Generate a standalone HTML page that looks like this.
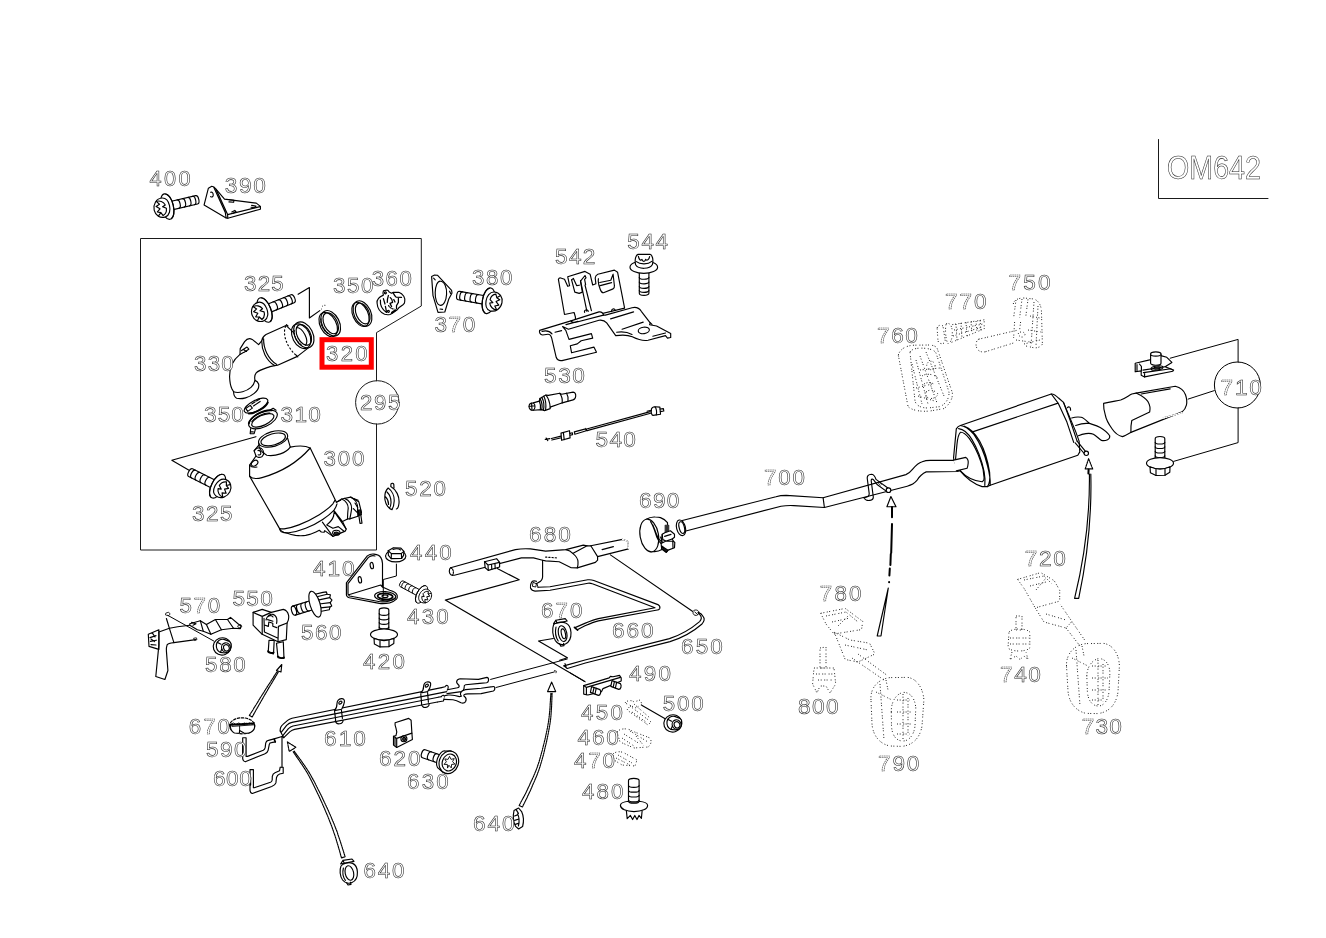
<!DOCTYPE html>
<html><head><meta charset="utf-8"><title>OM642 exhaust diagram</title>
<style>
html,body{margin:0;padding:0;background:#fff;}
body{width:1326px;height:938px;overflow:hidden;position:relative;}
svg{position:absolute;left:0;top:0;display:block;will-change:transform;}
.lb text{font-family:"Liberation Sans",sans-serif;fill:#fff;stroke:#222;stroke-width:.55;}
.lb .d{stroke-dasharray:1.6 .6;}
.ln{fill:none;stroke:#1a1a1a;stroke-width:1;stroke-linecap:round;stroke-linejoin:round;}
.p{fill:none;stroke:#000;stroke-width:1.15;stroke-linecap:round;stroke-linejoin:round;}
.pw{fill:#fff;stroke:#000;stroke-width:1.15;stroke-linecap:round;stroke-linejoin:round;}
.dot{fill:none;stroke:#222;stroke-width:1;stroke-dasharray:1 1.7 1 2.5 1 1.4 1 3;stroke-linecap:butt;stroke-linejoin:round;}
</style></head><body>
<svg width="1326" height="938" viewBox="0 0 1326 938">
<rect width="1326" height="938" fill="#fff"/>
<g class="ln">
<path d="M376.5 380.8V332.6L421.3 306V238.5H140.5V550H376.5V424"/>
<circle cx="377.3" cy="402.4" r="21.7"/>
<path d="M1158.5 139.5V198.5H1268"/>
</g>
<!-- 00_defs.svg -->
<defs>
<!-- torx flange bolt, side/iso view: axis +x, origin at flange centre, head toward -x -->
<g id="bolt">
<path class="pw" d="M2 -4.3L30.2 -4.3A2.2 4.3 0 0 1 30.2 4.3L3 4.3Z"/>
<path class="p" d="M11 -4.3A2.2 4.3 0 0 1 11 4.3M16.5 -4.3A2.2 4.3 0 0 1 16.5 4.3M22 -4.3A2.2 4.3 0 0 1 22 4.3M27 -4.3A2.2 4.3 0 0 1 27 4.3"/>
<ellipse class="pw" cx="0" cy="0" rx="6.2" ry="13"/>
<path class="p" d="M1.5 -12.6A6.2 13 0 0 1 1.5 12.6"/>
<path class="pw" d="M-3 -9.5C-9 -10.5 -13.5 -5 -13.5 0.5C-13.5 6 -9.5 10.2 -4 9.6C0.5 9 2.5 4 2.5 -0.5C2.5 -5 0.5 -8.8 -3 -9.5Z"/>
<path class="p" d="M-9.5 -7.5C-6 -8 -2.5 -5.5 -1.5 -2L-4.5 -1L-1.2 1.5C-1.5 4.5 -3.5 7 -6 7.8L-7.5 4.5L-10.5 7M-9.5 -7.5L-7 -4L-10.8 -2.5L-7.5 0.5L-10.8 3L-7.5 4.5"/>
</g>
<!-- hex flange bolt, vertical: origin at flange centre, shank up (-y) -->
<g id="vbolt">
<path class="pw" d="M-4.8 -2L-4.8 -24.500A4.8 2.200 0 0 1 4.8 -24.500L4.8 -2Z"/>
<path class="p" d="M-4.8 -7.500A4.8 1.8 0 0 0 4.8 -7.500M-4.8 -12A4.8 1.8 0 0 0 4.8 -12M-4.8 -16.500A4.8 1.8 0 0 0 4.8 -16.500M-4.8 -21A4.8 1.8 0 0 0 4.8 -21"/>
<ellipse class="pw" cx="0" cy="0" rx="13.5" ry="5.6"/>
<path class="pw" d="M-10 3.6L-9.6 9.5L-4 12.3L5 12L9.8 9L10 3.6C4 6.5 -4 6.5 -10 3.6Z"/>
<path class="p" d="M-4 6.2L-4 12.3M5 6L5 12"/>
</g>
</defs>

<!-- 10_topleft.svg -->
<!-- bolt 400 -->
<use href="#bolt" transform="translate(167.2 206.6) rotate(-13)"/>
<!-- bracket 390 -->
<g class="p">
<path class="pw" d="M211.8 186.2L208.4 188.2L204.1 204.9L226.1 217.9L227.8 218.2L260.4 209.2L260.4 206.4L256.3 203.1L224.5 199.1L216.2 189.4C214.5 187 213.2 186.2 211.8 186.2Z"/>
<path d="M213.9 187.6L225.3 212.5L226.1 217.9M216.2 189.4L227.6 214.6L227.8 218.2M227.6 214.6L260 206.6"/>
<path d="M210.6 192.2c1.6-.6 2.8 1 2.6 3.2c-.2 1.6-1.6 2-2.6 1.2"/>
<path d="M229.2 199.8l4.8.5l-.4 2l-4.6-.4M251.6 205.4l4.4.7l-1.4 1.6l-3.6-.4M231.8 212l3-1.6l1.2 1.2l-2.8 1.6"/>
</g>

<!-- 20_box295.svg -->
<!-- bolt 325 upper -->
<use href="#bolt" transform="translate(264.6 310) rotate(-22)"/>
<g class="p">
<path d="M298.1 294.3L309.4 287.6V318L319.8 310.6"/>
<!-- leader lines lower bolt -->
<path d="M255.9 436.7L171.8 460.2L189.9 470.7"/>
</g>
<!-- ring 320 (seal ring) -->
<g class="p" transform="translate(329.3 324) rotate(-27)">
<ellipse class="pw" cx="1.6" cy="0" rx="8.6" ry="13.6"/>
<ellipse cx="-1.2" cy="0" rx="8" ry="13"/>
<ellipse cx="1.6" cy="0" rx="6.6" ry="11.2"/>
<path d="M-5.2 -8.5A6.6 11.2 0 0 0 -5.2 8.5" stroke-dasharray="1.6 1.4"/>
</g>
<path class="dot" d="M322 306.6c1.4-1.6 3.4-1.8 4.4-.6M321 308.6l1.8 1.6"/>
<!-- ring 350 upper -->
<g class="p" transform="translate(361.4 314) rotate(-24)">
<ellipse class="pw" cx="1.2" cy="0" rx="8.4" ry="13.4"/>
<ellipse cx="-1" cy="0" rx="7.6" ry="12.8"/>
<ellipse cx="1.4" cy="0" rx="6.4" ry="11"/>
</g>
<!-- clamp 360 -->
<g class="p">
<path class="pw" d="M383.400 295.100C379 297 376.600 300 377.100 303.200C377.400 308 380.600 312.400 384.600 314.300C386.400 314.800 388.400 314.800 390 314.500L392.300 313.200L396.900 310.100L398.800 307.800L403 304.700C404.400 303.600 404.800 302.600 404.700 301.700C405 299.600 404.600 297.600 403.800 296.300C402.400 294.200 400.600 292.900 398.800 292.300L393 292.400L391.500 293.200L389.200 292.100C388.400 290.600 387.600 290 386.900 290L383.400 290.900C382.800 292.400 382.800 293.800 383.400 295.100Z"/>
<path d="M380.400 300.100C380 305 382.600 309.800 386.500 312.400M393 292.600C394 294.600 395 296 396.100 297.100L401.500 297.400M398.400 298.200L398.400 302.400C397.800 303.600 397 304.600 396.500 305.500L396.500 308.600M383.400 298.600L385 304M388.400 295.500C387.600 297.800 387.200 300 387.300 302.400M390.200 297.600C391.400 298.400 392.400 300.400 392.600 302.400L390 303.400L391.600 306.600M385.400 306.300L386.400 311.400M393.800 299.600l1.200 2.400" stroke-width="1.250"/>
<circle cx="388.400" cy="311.300" r="1"/><circle cx="385.400" cy="292.800" r="1"/>
<path d="M392 312.600l3.400-2.400" stroke-width="2"/>
<path d="M388.600 305.600c1.400 2.400 3.400 3.400 5.400 3.400" stroke-dasharray="1 1.200"/>
</g>
<!-- gasket 370 -->
<g class="p">
<path d="M431.6 276.4L434.6 275L437.4 275.2L451.6 290.4L452 293L448.8 299L444.8 312L438 312.4L433 295.6Z"/>
<path d="M440.4 281.2C444.4 281.4 447 287.4 446.6 294.2C446.2 300.6 443.6 305.6 440.6 305.4C437 305.2 435 299.2 435.2 292.6C435.4 286 437.4 281 440.4 281.2Z"/>
<path d="M433.6 278.2l1.6 1.6M449.6 291.2l1 2.2M440 309l2.6.4" />
</g>
<!-- bolt 380 -->
<use href="#bolt" transform="translate(488.6 300.8) rotate(190)"/>
<!-- pipe 330 -->
<g class="p">
<!-- body cylinder -->
<path class="pw" d="M286 325.4L266 334.6C263.6 336 262.2 338.2 261.7 340.8L258.6 344.6L252.2 339.4C249.6 338 246.6 339 244.6 341.6L240.2 348.6L240 354.4C233 360 229.4 368 229.6 377C229.8 382 230.6 386 231.8 388.6L233.6 391.8C233.6 394.6 234.6 397.2 236.6 398.2C242 399.6 249.4 397.4 254.2 393.4C257.6 390.6 259.4 387.2 258.6 384C258 382.4 256.6 381 255 380.4C254.4 377.6 254.4 375 256.2 372.8C259 370 265 368.4 270 366.6L274.6 365.6L277.6 365.2L297.4 356.4L309 347.4Z"/>
<path d="M261.7 340.8C261.6 350 266 360.6 274.6 365.6M263.6 338.8C263.4 348.4 268 359.4 276.8 364.6"/>
<path d="M233.6 391.8C239 393.6 246.4 391.4 251 387.4C253 385.6 254.4 383 255 380.4"/>
<path d="M240 354.4l3.400-1.800M241.600 350.600l5.400-3.600l1.800 2.200l-5 3.200M243.800 349.800l2.800 1.600"/>
<path d="M285.6 326.4C282.6 333 285.6 346.6 297 356" stroke-dasharray="1.2 2.6"/>
<path d="M286.4 324.600l1.600 1.400M296.200 355.200l1.600 1.600"/>
</g>
<g class="p" transform="translate(302.4 335.6) rotate(-27)">
<ellipse class="pw" cx="1.6" cy="0" rx="9" ry="13.8"/>
<ellipse cx="-1.4" cy="0" rx="8.6" ry="13.2"/>
<ellipse cx="1.6" cy="0" rx="6.6" ry="11"/>
<path d="M-1.500 -9.800A6.200 10.600 0 0 1 -1.500 10.200"/>
<path d="M-4.800 -8.500A6.6 11.2 0 0 0 -4.800 8.500" stroke-dasharray="1.6 1.4"/>
</g>
<!-- gasket 350 lower -->
<g class="p" transform="translate(256 405.600) rotate(-27)">
<ellipse class="pw" cx="0" cy="0" rx="13" ry="5.200"/>
<path d="M-10 3.800A13 5.200 0 0 0 12 2.600" stroke-width="1.800"/>
<path d="M-10.500 -2.200l5.500 -.600l.600 3.400l-5.600 .800zM-3 -3.400l4 -.400M2.500 -4l3.500 -.200M-2.400 -.800l8 -1"/>
</g>
<!-- clamp 310 -->
<g class="p" transform="translate(263 419.600) rotate(-25)">
<ellipse class="pw" cx="0" cy="0" rx="15.400" ry="7.400"/>
<ellipse cx="-.5" cy=".600" rx="12" ry="5"/>
<path d="M-14.500 -2.500A15.400 7.400 0 0 1 12 -4.600" stroke-width="1.800"/>
<path d="M-11 -2.800A12 5 0 0 1 9 -3" />
<path d="M-15 3l-2.600 4.400l3.600 1.600l3 -3.400M-16.400 5.800l2.400 1.200M10.500 -5.600l3.500 -.400l1.800 3"/>
</g>
<!-- bolt 325 lower -->
<use href="#bolt" transform="translate(217.600 486.200) rotate(206.600)"/>

<!-- 21_cat300.svg -->
<!-- catalytic converter 300 -->
<g class="p">
<!-- body -->
<path class="pw" d="M249.600 465.200L249.600 476.100L279.600 528.600C280.600 531 283.600 532.400 286.700 533C289.600 534.200 292.600 535 295.500 535.400C299 535.800 302.600 535.800 305.700 535.400C309.600 534.600 313 533.400 315.900 532L319.300 530.300L321.300 532L324.100 532.300L324.700 530.600L332.900 536.400L345.200 531.100L346.200 529.300L342.500 521.600L347.500 518.900L349.800 518.900L357.900 516.200L361.500 512.500L358.800 501.700L350.700 497.100L341.600 499L336.400 502.200L310.200 448C306 445.800 298 445.600 290.300 447.100L287.600 438.100L258.600 445.300L254.100 450.800L256 456L249.600 465.200Z"/>
<!-- neck ring -->
<g transform="translate(273.100 439) rotate(-16)">
<ellipse class="pw" cx="0" cy="0" rx="15" ry="7.400"/>
<ellipse cx="0" cy=".400" rx="12.600" ry="5.600"/>
</g>
<path d="M258.800 443.400C258.600 449 262 452.600 266.800 455.300C276 456.600 286 453 290.300 447.100"/>
<path d="M254.100 450.800C256 448 259.600 447 261.600 448.600C264 450.600 264.400 454.600 262.200 456.400C260 457.800 257 457.600 256 456M258 450.600c1.600-.6 3 .8 2.800 2.800c-.2 1.400-1.400 2-2.600 1.400"/>
<ellipse cx="254.600" cy="463.200" rx="3.600" ry="2.400" transform="rotate(-35 254.600 463.200)"/>
<!-- top arc of body -->
<path d="M249.600 476.100C252 478.600 257 479 262 477.600C282 472 298 462 310.200 448"/>
<path d="M249.600 465.200C251 467 254 467.600 257 467"/>
<!-- bottom arcs -->
<path d="M279.600 528.600C282 529 284 528.900 285.400 528.600C290 528 295 526.400 298.900 524.900C306 522 313 518.600 319.300 514.700C325 511 329.600 507.600 332.900 503.800L334.900 500.400"/>
<path d="M279.600 528.900C280 530.200 280.600 531.200 281.300 531.700C284 532.900 286.600 533 288.800 532.700C295 532 300.600 530.400 305.700 528.300C312 525.800 317.600 522.800 322.700 519.400C327 516.600 330.800 513.600 333.600 510.600C335.200 508.600 336.400 506.200 337 503.800"/>
<!-- outlet -->
<path d="M336.400 502.200L340.700 500.300M334.400 511.200L342.500 521.600M322.400 522.200L332.900 536.400M326.800 524.900C330 522.400 332.600 519.400 333.600 516L334.200 512M333.600 510.600L346.100 528.900M326.800 524.900L332.900 528.300L338.300 526.600L343.700 531"/>
<path d="M341.600 499C346 500.600 349 505 348 510C347.600 513.600 347.600 516 347.500 518.900M344.600 498.400C349.600 500.200 352.400 505 351.400 510.400C350.800 514 350.400 516.400 349.800 518.900M350.700 497.100C355 499 358 503.600 357.600 509C357.400 512.400 357.800 514.400 357.900 516.200"/>
<path d="M353.600 498.600l4.600 1.600M355 503l2.600 4.400M353.400 508.600l3.400 3.600M358.200 510.200l.6 5l1.200 8.200l2 -.2l-1.200 -8.400" />
<path d="M358.200 510.200l2.400-.4l.8 4.800-2.400.6z" fill="#222"/>
<ellipse cx="336.300" cy="532.700" rx="3.700" ry="2.500"/>
<ellipse cx="336.300" cy="533.200" rx="2.200" ry="1.200" fill="#333"/>
</g>
<!-- clip 520 -->
<g class="p">
<path d="M390.800 486.400C396.200 489.400 399.600 496.400 399 503.200C398.600 506.600 397.800 508.600 396.400 509M390.800 486.400l.2-2.600c1-1 2.600-.4 2.800.6l.2 3.400M388.200 488C385.600 490.400 384.400 495.400 385 500C385.800 505 389 509 392 509.600M388.200 488C391.800 490.600 394.400 496 394.200 501C394 505.400 393 508 392 509.600M387 492C389.600 494.600 391.200 499 391 503C390.800 505.400 390.400 507 389.600 508M385.400 496.600C387.400 498.600 388.600 501.400 388.600 504.400"/>
</g>

<!-- 30_mid_top.svg -->
<!-- bracket 542 -->
<g class="p">
<!-- back plate -->
<path class="pw" d="M558.4 279.3C559 278 560 277.800 560.700 278L564.500 279.300L567.700 286.300L569.600 285.700L567.700 276.700L585 271.400L590.100 274.200L592.700 285L595.900 283.800L595.200 278C595.400 276 596.400 274.800 597.800 274.200L614.400 270.100L617.600 272.300L624.600 308.100L575.400 320L575.400 317L574.100 312.500L564.500 314.500Z"/>
<path d="M571.600 279.900L574.800 292.100L579.200 293.400L582.400 292.100L580.500 281.200L585 275.500L586 277.800L584.600 279.400L585.600 284.600"/>
<path d="M571.600 279.900L573.400 278.400L576.600 285.600L579.400 285.200"/>
<path d="M580.500 280.600L586.900 311.300M585 285L591.400 310.600"/>
<path d="M598.400 278.700C598 280 598.400 283 598.800 285L600.300 289.500C601 291.600 602.200 292.800 603.500 292.700L613.100 288.900C614.200 288 614.600 287 614.400 285.700L613.100 274.200L610.800 280.200L599.700 282.500M600.200 285.600L611.600 282.600"/>
<!-- lower plate -->
<path class="pw" d="M539.600 330.400L570.900 320.900L599 311.900C601.600 311.600 603 313 603.500 315.100L605.400 315.100L632 307.800C636 306.800 639.400 308.400 641.300 311.300L650.200 322.800L649.600 324.700L656.600 326L670.700 333.600L670.700 337.500L667.500 338.100L665.500 335.600L648 340.200C643 341.200 638 339.600 632.300 336.800C628 334.800 623 334.600 615.700 335.600L606.700 322.800C604.600 320.400 602 319.800 599 320.200L568.400 329.200L562.600 326.600L565.800 330.400L569 339.400L591.400 333.600L592.700 338.100L581.200 340.700L577.300 343.900L570.300 345.800L571.600 352.800L593.900 347.100L596.500 352.200L562 360.600C559 361 557 359.600 556.200 357.300L551.700 338.100C550.800 335.200 549.600 334.200 547.900 334.300L542.600 335C540.200 334.600 539 332.600 539.600 330.400Z"/>
<path d="M570.900 320.900C572 322.400 574 322.800 576 322.200L603.500 315.100M566 324.600L578 321.400M555 332.200L561.600 330.600M542 331.400C546 330.400 550 331.400 552 333.800"/>
<path d="M610.600 318.900L633.600 311.900M622.100 329.200L643.200 322.100M652.800 336.200L665.500 333M616.600 332.200C622 331.400 628 332.200 632 334.400M650.200 322.800l1.800 1.600"/>
<ellipse cx="643.800" cy="330.400" rx="5.600" ry="3.200" transform="rotate(-8 643.800 330.400)"/>
<path d="M584.600 312.400c-.8-2.400 2.600-3.600 3.800-1.200M611.600 311.600c-.6-2.600 2.600-3.800 3.800-1.200"/>
</g>
<!-- bolt 544 (head up) -->
<g class="p">
<path class="pw" d="M639.300 270L639.300 293.200A4.800 2.200 0 0 0 648.900 293.200L648.900 270Z"/>
<path d="M639.300 277.400A4.800 1.800 0 0 0 648.900 277.400M639.300 282A4.800 1.800 0 0 0 648.900 282M639.300 286.600A4.800 1.800 0 0 0 648.900 286.600M639.300 290.600A4.800 1.800 0 0 0 648.900 290.600"/>
<ellipse class="pw" cx="643.800" cy="267.200" rx="13.800" ry="6.200"/>
<path class="pw" d="M635.600 264.800C634.400 259 636 255 638 254.400L650 254.200C652.400 255 653.600 259.400 652.400 264.600C650 269.400 638.400 269.600 635.600 264.800Z"/>
<path d="M638.400 256.400C639 259.600 640.600 261 642 259.400C642.600 262 645 262 645.600 259.400C647 261 649 259.800 649.600 256.600M636.400 261.600C640 264.600 648 264.600 651.800 261.400"/>
</g>
<!-- sensor 530 -->
<g class="p">
<path class="pw" d="M533.300 402.900L539.300 401.100L539.900 398.400L545.900 395.100L548.300 395.400L559.800 393.300L561.600 394.200L573.100 392.100C575 392.400 575.900 394 575.700 396.300C575.500 398.400 574.600 399.600 573.100 399.900L562.200 402.900L560.400 403.500L550.200 407.100L550.200 408.600L544.500 410.600L541.700 409.600L533.300 410.200C531 410.600 529 409 529 406.600C529 404.400 530.600 402.900 533.300 402.900Z"/>
<path d="M533.300 402.900C534.600 403.800 535.200 405.200 535 407C534.800 408.600 534.200 409.600 533.300 410.200M529.200 406.200L534.800 405.800M531.600 403.400L532 410M539.300 401.100C540.400 403.600 540.800 407 540.400 409.600M539.900 398.400C541.600 401.400 542.400 406.600 541.700 409.600M541.800 397.400C543.600 400.600 544.200 406.400 543.400 410.200M543.800 396.200C545.600 399.600 546.200 405.600 545.600 410.200M545.900 395.100C548.400 398 549.800 402.600 550.200 407.100M559.800 393.300C561.600 395.800 562.600 399.600 562.200 402.900M566.600 393.200C568 395.600 568.400 398.600 568 401.200"/>
</g>
<!-- wire 540 -->
<g class="p">
<path d="M545.200 439.400l4.600 -.800M546.200 438l1.600 2.600M551.400 438.500L561 436.100M551.800 440L561.400 437.800"/>
<path class="pw" d="M561 433.100L569.500 430.700L570.100 437.900L561.600 440.300Z"/>
<path d="M563.400 432.600l.8 7M570 433.400l2.400-.6l.2 1.800l-2.400.6M574.300 431.900L585.700 428.900L586.300 430.700L574.900 434.300ZM587.500 428.700L650.300 411.600M588 430.400L650.600 413.200M585.800 428.400l1.400 2.400"/>
<path class="pw" d="M651.400 410C651 408 653 407 655 406.800L659.900 407.100L660.500 414.200L653 415.400C651.400 414.600 651 412.600 651.400 410Z"/>
<path d="M655 406.800C656.600 408.400 657 412.600 656.200 415M660 409l3.400-.4l.4 2.400l-3.400.6M647 411.200l4.200-1"/>
</g>

<!-- 40_right.svg -->
<!-- pipe 700 -->
<g class="p">
<path class="pw" d="M682.3 520.5L775.9 496.7C779 495.800 783 495.400 786.200 495.400L823.100 497.700L905.900 474.600C909 473.400 911 471.400 912.700 469.200C916 465 919 462.600 922.200 461.700C925 460.600 928 460.400 930.300 460.400L953.400 460.400L965.600 457.400C968 458 969.400 460.600 969 463.100C968.800 465.600 968.400 467 967.600 468.500L957.500 471.500L926.200 471.900C922 473.600 919 477 916.700 480.700C914 484 911 485.200 907.200 486.200L824.400 507.500L793.800 505.600C789 505.400 785 505.600 781 506.200L684.900 531.300Z"/>
<path d="M823.100 497.700L824.400 507.500"/>
<g transform="translate(681 527.800) rotate(-14)">
<ellipse class="pw" cx="0" cy="0" rx="4.400" ry="8"/>
<ellipse cx=".800" cy="0" rx="2.600" ry="6"/>
</g>
<!-- hanger wire -->
<path d="M888.200 488.200L876 479.400C875 476 873.400 474.200 871.300 474.200C868.600 474.400 867.200 476 867.200 478L869.200 493.600C869.200 495.600 868 497 866 497.200L863.800 497.700C865 499.600 867.600 500.800 869.900 500.400C872.200 500 873.400 498.600 873.300 497L871.200 480.700C871.200 479 872.400 478.600 873.400 479.600L877.400 484.800L886.900 491.600"/>
<circle class="pw" cx="888.500" cy="490.200" r="2.300"/>
<path d="M877.600 482.200l2.600 3M879.200 481.400l2.200 3" stroke-width=".7"/>
</g>
<!-- arrow 780 -->
<g class="p">
<path class="pw" d="M890.900 496.500L886.900 506.700L896 506.700Z"/>
<path d="M892 507L892 517.300M892 524.100L891.200 553M890.800 554L890.400 565M889.800 568.500L889.400 575.400M889.100 582l0 .3" stroke-width="2"/>
<path d="M888.300 588L877.200 636L881 636Z"/>
</g>
<!-- muffler -->
<g class="p">
<path class="pw" d="M960.400 425.500L1051.300 394C1054 393.600 1056 395.600 1058.800 398.300L1063.500 402.400L1075.700 431.600L1079.100 441.100L1079.800 451.900L1077.800 455.300L990.200 485.200L987.500 486.600L982.100 486.600C974 484 965 477 959 469.600C955 464 953.400 460 953.600 457.400L956.300 428.900C957.600 426.600 959 425.800 960.400 425.500Z"/>
<path d="M973.300 431.600L1058.100 403.100M1051.300 394L1058.100 403.100L1066.900 422.100L1073.700 442.400M1063.500 402.400L1070.300 420.700L1077.100 441.100"/>
<path d="M960.400 425.500C964.400 425.800 968 428 973.900 434.300C980 443 984.800 454 987.600 466C989.400 473 990.600 479 990.200 485.200M964.400 426.200C970 428 975 433 979.600 441C984.600 450 988 462 989.600 472C990.200 478 990 483 987.500 486.600M958.600 428.600C963 429 968 433 972 439.600C977.600 449 981.600 460 984.100 471.600C985 476.600 985.400 481 984.800 485.400"/>
<path d="M960.400 432.300C958.600 434 957.600 438 957 444L955.600 458.700C955.800 462 957.600 466 960.400 470.900C966 477 974 481 982.100 481.800C983.600 481 984.400 479.600 984.100 477.700C984 472 982.600 466 980.700 461.400C977.600 452 974 445 969.200 438.400C966 434.400 962.600 432 960.400 432.300Z"/>
<!-- inlet pipe end in muffler -->
<path class="pw" d="M953.600 460.100L965.800 457.400C967.600 458.400 968.400 460.600 968.200 463C968 465.600 967.600 467 967.100 468.200L956.300 470.900"/>
<!-- tail pipe from muffler -->
<path class="pw" d="M1071.700 418C1075 417 1078.600 416.800 1081.200 417.300C1084.400 418.200 1086.800 421 1089.300 423.400C1093 424.600 1097 425.600 1100.200 427.500C1104 429.800 1107.600 432.600 1109.700 435.700C1110 437.600 1109.200 439 1107.600 439.700C1105.600 440.600 1103.400 440.800 1101.500 440.400C1098.600 438.600 1096.400 436 1093.400 434.300C1091 433.200 1088.400 433.200 1085.900 433.600C1083.400 434 1080.600 434.800 1078.500 435.700"/>
<path d="M1075.700 425.500C1080 424 1084 423.200 1087.300 423.400L1089.300 423.400"/>
<path d="M1067.400 407.600c1.200-1.200 2.800-.6 3 .8l.2 1.800"/>
<path d="M1077.100 441.100L1085.900 451.900M1075.200 442.800L1084.600 454"/>
<circle class="pw" cx="1086.300" cy="453.300" r="2.200"/>
</g>
<!-- arrow 720 -->
<g class="p">
<path class="pw" d="M1088.600 458.700L1085.200 468.900L1092.700 468.900Z" stroke-dasharray="2 1"/>
<path d="M1088.600 469.600L1088.400 473.500" stroke-width="2"/>
<path d="M1089.400 474C1089.800 505 1087.600 545 1074.600 598.400L1078.700 598.400C1090 545 1091.600 505 1090.800 474"/>
</g>
<!-- tail pipe tip 710 -->
<g class="p">
<path class="pw" d="M1103.600 403.400C1110 401.800 1116 401 1120.700 400C1125 398.400 1128.600 395.600 1131.800 394L1136.100 393.100L1175.300 386.300C1180 387.400 1184 390.600 1185.500 394.800C1186.800 398.600 1187.200 402 1186.400 405.100C1185.600 408.200 1184.200 410.400 1182.100 411.900L1130.900 432.400C1127.600 434.400 1125 436 1122.400 436.600C1118 435.600 1114.600 432.600 1112.200 429C1108 423 1105.800 418 1105.400 415.300C1104 410.600 1103.400 406.400 1103.600 403.400Z"/>
<path d="M1136.100 393.100C1141 395.400 1145.600 398.400 1148 401.700C1150 405 1150.400 408.600 1149.700 411.900L1131.800 420.400C1131 424 1130.800 428 1130.900 432.400M1141.200 394L1170.200 388.900M1163.400 417.900L1182.100 412.800" />
<path d="M1163.400 417.900L1182.100 412.800" stroke="#fff" stroke-width="1.6" stroke-dasharray="1 1.600"/>
<!-- clip nut -->
<path class="pw" d="M1135.200 363.300L1149.700 359.900L1160.800 355.600L1166.800 357.300L1171.900 362.400L1165.100 366.700L1173.600 370.100L1172.800 371.200L1144.600 376.900L1141.200 375.200L1141.200 370.900L1135.200 371.800Z"/>
<path d="M1137 364.600l0 5.800M1139.400 364l2 2.400l0 4.400M1142.900 370.100L1165.100 366.700M1143.400 372.600L1171 368.800M1144.600 376.900l0-3.600"/>
<ellipse cx="1157" cy="368" rx="6" ry="2" transform="rotate(-8 1157 368)"/>
<ellipse cx="1157" cy="368" rx="3.400" ry="1" transform="rotate(-8 1157 368)" fill="#444"/>
<path class="pw" d="M1150.600 354L1150.600 363.200A5.200 2 0 0 0 1161 363.200L1161 354Z"/>
<ellipse class="pw" cx="1155.800" cy="354" rx="5.200" ry="2.200"/>
<!-- 710 circle + leader lines -->
<path d="M1238.100 362.200V339.400L1170.200 358.200M1238.100 407.800V442.600L1173.600 461.400M1214.300 390.600L1188.100 399.100" stroke-width="1"/>
<circle cx="1237.400" cy="385" r="23" stroke-width="1"/>
</g>
<use href="#vbolt" transform="translate(1160 463.200)"/>
<!-- dotted parts 750 760 770 -->
<g class="dot">
<!-- 760 -->
<path d="M898.300 355.100C900 349 906 345.600 914 345.200L930 345C934 345.400 936.400 346.800 937.100 348.200L952.300 392.500C953 398 950 404 944 408.600L930 411C920 412 911 410 908 406.400Z"/>
<path d="M910 352C912 348.600 918 347.600 926 348.400C932 349.200 935 351 936 353L949 392C949.400 398 946 404 940 406.600L928 408C920 408 916 405 915 401Z"/>
<path d="M916 360L928 404M920 356L936 400M912 364L922 404M926 352L944 396"/>
<circle cx="930.900" cy="365.500" r="4.200"/>
<path d="M922 376C926 373 934 374 938 378M924 384c3-2 8-2 11 1M926 392c3-3 9-2 12 2c-2 5-9 6-12 2z"/>
<path d="M918 396L938 402M916 388L932 384M920 370L940 368"/>
<!-- 770 -->
<path d="M937.100 328C938 325 941 324.600 943 326L945.400 342C943 344.600 939 344 938 341Z"/>
<path d="M946 324C950 322 952 326 952.300 332C952.400 338 951 343 948 343.600C945.600 340 945 330 946 324Z"/>
<path d="M952.300 324.600L984.200 319.800L984.200 328.800L951 342.600M956 324L957 340M961 323L962 338M966 322.400L967 336M971 321.600L972 334M976 321L977 332M980 320.400L981 330"/>
<path d="M954 330L983 324M953 336L982 327"/>
<!-- 750 -->
<path d="M978.700 339.200L1017.500 330.200M985.600 351.700L1014.700 342.600M978.700 339.200C975.600 341 975.200 346 977.600 349.600C980 352 983 352.400 985.600 351.700"/>
<path d="M1013.300 304C1014 300 1018 298 1024 298L1034 299C1038 300.600 1040.600 304 1041.400 310L1042.400 344C1041 347 1037 348.400 1033 347.600L1026 346"/>
<path d="M1016 300L1013.600 318M1022 299L1019.600 318M1028 299.400L1025.600 318M1014.600 322L1013.600 338M1020.600 322L1019.600 330"/>
<path d="M1034 302L1031 346M1038 306L1036 346M1030 316L1040 318M1028 330L1041 332M1018 334C1020 331 1024 331 1025 334.600C1024 338 1020 338 1018 334Z"/>
<path d="M1016 340L1030 342M1024 344L1040 340"/>
</g>

<!-- 50_botleft.svg -->
<!-- bracket 410 -->
<g class="p">
<path class="pw" d="M346.400 582.800L367.300 555.900C369.600 554.200 372 553.800 374 554.100C377.600 554.600 380 556 380.700 557.400C382 559.400 382.500 561.400 382.500 563.400L382.500 587L389.700 590.200C394 591.400 396.600 593.200 397.200 595.400C397.600 597.600 397.200 598.600 396.400 599.200C394.400 601.200 392 602.400 389.700 602.900C386 603.600 382 603.800 379.300 603.400L349.400 597.700C347.400 597 346.400 595.800 346.400 594.700Z"/>
<path d="M348 583.600L368.400 557.400C370.400 555.800 373 555.400 375 556M348 583.600L348 594.200L349.600 596L380 601.800C386 602.200 392 600.600 395.600 597.600M348.700 594.700L380.700 585L382.500 587"/>
<ellipse cx="371.800" cy="565.600" rx="1.600" ry="3.200" transform="rotate(-10 371.800 565.600)"/>
<ellipse cx="359.900" cy="579.800" rx="1.600" ry="3.200" transform="rotate(-10 359.900 579.800)"/>
<ellipse cx="385.200" cy="596.200" rx="10.600" ry="4.600" transform="rotate(4 385.200 596.200)"/>
<ellipse cx="385.200" cy="596.400" rx="7.600" ry="3" stroke-width="1.800" transform="rotate(4 385.200 596.400)"/>
<ellipse cx="385" cy="596.200" rx="3" ry="1.400" fill="#fff"/>
<path d="M396.400 564.100V576L383.300 579.500V596.200" stroke-width="1"/>
</g>
<!-- nut 440 -->
<g class="p">
<ellipse class="pw" cx="395.700" cy="555.900" rx="10.200" ry="6"/>
<path class="pw" d="M388.200 550.700L393.400 547.700L400.900 548.100L403.900 551.400L403.600 555.400L401.600 558.400L391.200 558.600L388.400 555.400Z"/>
<path d="M388.200 550.700L391.400 553.600L401.400 553.400L403.900 551.400M391.400 553.600L391.200 558.600M401.400 553.400L401.600 558.400M393 549.400C395.600 548.600 399 548.800 400.600 550"/>
</g>
<!-- bolt 430 -->
<use href="#bolt" transform="translate(421.600 594.400) rotate(208) scale(.75)"/>
<!-- bolt 420 -->
<use href="#vbolt" transform="translate(384 634.600)"/>
<!-- bracket 570 -->
<g class="p">
<path d="M167.900 615.400L213.900 641.100" stroke-width="1"/>
<path d="M166.400 618.500L169.400 628.300L173.900 642.600L195.800 639.600M158.900 632L169.400 628.300L177.700 626.800L189.800 625.200"/>
<path class="pw" d="M189.800 623.700L200.300 620.700L206.400 624.500L215.400 619.500L227.500 619.500L230.500 617.400L238 623.700L241 626L240.400 628.600L233.500 628.300L221.400 629.800L210.900 634.300L203.300 631.300L197.300 629.800L189.800 625.200Z"/>
<path d="M200.300 620.700L203.300 631.300M206.400 624.500L210.900 634.300M215.400 619.500L221.400 629.800M227.500 619.500L233.500 628.300M191.600 622.400l4.400 1.400l-3 1.400"/>
<path d="M166.200 613l2.400-.8l1.600 1.800l-1.800 1.800l-2.600-.8zM238.600 625.200l2.200-.6l1 2l-1.800 1.400l-2-1zM194 638.200l2.400-.4l.6 1.800l-2 .8z" stroke-width=".8"/>
<path class="pw" d="M173.900 642.600C170 643 167.600 644 167.100 644.900C166.400 647 166.200 649 166.400 650.900L167.900 670.500L164.900 679.500L155.800 676.500L158.900 644.900L158.900 632"/>
<path d="M148.300 634.300L158.900 629.800L158.900 649.400L149 646.400ZM150 637.600l6-2M150.400 641.400l6-1.200M151 644.600l5 .4M152.600 633.400l2.400 3.600M151 639l3.600 2.600" />
</g>
<!-- nut 580 -->
<g class="p">
<ellipse class="pw" cx="222.200" cy="646.400" rx="9" ry="8.600" transform="rotate(-20 222.200 646.400)"/>
<path class="pw" d="M216.400 644.600C217 641 220.600 638.600 224 639.400L229.400 641.400C231 642.600 231.400 644.400 231 646.400C230.600 650 228 652.600 225 653L220.400 652.400C217.600 651 216 648 216.400 644.600Z"/>
<ellipse class="pw" cx="226" cy="647.600" rx="4.400" ry="4.800" transform="rotate(-20 226 647.600)"/>
<ellipse cx="226.400" cy="647.800" rx="2.800" ry="3.200" transform="rotate(-20 226.400 647.800)"/>
<path d="M217.600 642.400l3.400 1.800M220.400 652.400l1.400-3.400"/>
</g>
<!-- sensor 550 -->
<g class="p">
<path class="pw" d="M269 640.300L268.200 652.400L273.500 653.900L274.200 640.300ZM276.500 643.300L278 657.700L284 658.400L283.300 641.800Z"/>
<path d="M268 651.200C269.600 653 272.600 653.400 273.600 652.400M277.800 656.400C279.600 658.400 283 658.600 284 657.400" stroke-width="1.800"/>
<path class="pw" d="M253.100 612.400L262.200 609.400L271.200 612.400L283.300 609.400C286 610 288 612.400 288.600 615.400C289 618.400 288.400 621 287.100 623L286.300 639.600L278 641.800L262.200 634.300L253.100 625.200Z"/>
<path d="M253.100 612.400L262.200 616.400L262.200 634.300M262.200 616.400L271.200 612.400M278 641.800L278.400 626.400L287.100 623M264 618.400L264.400 632L277.600 638M266 620C267 616 270 613.600 273 614.400C276 615.400 277.400 619 276.600 623.400M264.400 625l4 1.400l.4-4.400l4 1.200l0 3l4 1.400M268 616.600c1.600-1.400 4-1.200 5 .4M267.600 619.600l5.400 1.600"/>
</g>
<!-- bolt 560 -->
<g class="p" transform="translate(315 604.200) rotate(163)">
<path class="pw" d="M2 -4.700L22 -4.700A2.300 4.700 0 0 1 22 4.700L2 4.700Z"/>
<path d="M7.500 -4.700A2.300 4.700 0 0 1 7.500 4.700M12 -4.700A2.300 4.700 0 0 1 12 4.700M16.500 -4.700A2.300 4.700 0 0 1 16.500 4.700M22 -4.700A2.300 4.700 0 0 0 22 4.700"/>
<path class="pw" d="M-3 -8.500L-12 -9.500L-13.500 -7L-15.500 -6.500L-15 -3L-17.500 -1L-16 2L-17.500 4.500L-14.500 6L-14.500 8.500L-11 9L-3 9.500Z"/>
<path d="M-4 -5L-13.500 -7M-4 -1L-15 -3M-4 3L-16 2M-4 6.500L-14.500 6"/>
<ellipse class="pw" cx="0" cy="0" rx="5" ry="13.400"/>
</g>
<!-- arrow 550 <- 670 -->
<g class="p">
<path class="pw" d="M281.800 664.500L276.500 670.500L281 672Z"/>
</g>
<!-- clamp 670 left -->
<g class="p">
<ellipse cx="242.100" cy="725.800" rx="12.600" ry="8" stroke-dasharray="2.400 1.600"/>
<path class="pw" d="M230.400 724.400C230 728 231.600 731.600 234.400 733L239.400 733.200L239.600 730.400L244 733C248 733.800 252 732.400 254 729.400C254.800 727.600 254.800 725.600 254.400 724"/>
<path d="M230.400 724.400l3-1.400l2.400 1.400l3-1.400l2.600 1.400l3-1.400l2.600 1.400l2.800-1.600l2.400 1.400l2.400-1.400M232 726.400l22-1.600M239.600 726v4.400" stroke-width=".9"/>
<path d="M231 724.800l23-1.400" stroke-width="2" stroke-dasharray="2 1.400"/>
</g>
<!-- pipes 590 / 600 -->
<g class="p">
<path d="M242.700 737.700L246.100 737.700M242.700 737.700L242.700 758.800C243 760.600 244 761.600 245.200 761.800L264.500 754C266.600 753 267.800 752 268.100 750.300L269.300 744.300C269.600 743 270.400 742.600 271.400 742.600L275.300 741.900M246.100 737.700L246.100 756.400L247.600 756.400L263.300 750.300C264.600 749.600 265 748.600 265.200 747.400L265.700 743.100C266 741.400 267 740.600 268.400 740.400L274.100 738.900L282 736.500L282 767.200" />
<path d="M250 769.600L253.400 769.600M250 769.600L250 790.200C250.200 792.200 251.200 793.400 252.400 793.500L271.700 786.500C274 785.600 275.400 784.600 275.900 782.900L276.500 777.500C277 775.600 278 774.600 279.600 774L283.200 773.300L283.200 767.200L280.200 767.200M253.400 769.600L253.400 787.700L254.200 787.700L270.500 782.300C271.600 781.800 272 781 272.200 780L272.300 776.300C272.600 774.400 273.600 773.400 275 772.800L279.500 770.800L280.200 767.200"/>
<path d="M274.100 738.900l1.200 3M243 745l0 8M250.400 777l0 8" stroke-width="1.600"/>
</g>
<!-- pipes 610 -->
<g class="p">
<path d="M280.200 731C280 728 281 726 283 724.400L287.600 720.400C289 719.200 290.600 718.600 292 718.200L441.500 687.600"/>
<path d="M281.400 732.200L286.600 725.400C288.200 723.800 290 722.800 292 722.400L443.100 692.400"/>
<path d="M282.600 735.900L288.400 728.600C290 727.200 291.600 726.400 293 726L438.300 697.200"/>
<path d="M283.800 737.700L290 731.600C291.600 730.400 293 729.800 294.600 729.400L437.500 702"/>
<path d="M280.200 731L283.800 737.700L282 736.500" />
<!-- brackets on pipes -->
<path class="pw" d="M334.400 710.600C336.600 708.400 337 705.600 337 703.400C337.200 700.600 338.800 699 341.400 698.600C343.600 698.400 344.600 699.600 344.400 701.800C344 704.600 343 707 341.600 709.200Z"/>
<ellipse cx="340.400" cy="702.600" rx="1.800" ry="1.200" transform="rotate(-40 340.400 702.600)"/>
<path d="M335.400 720.400C335.600 722.600 337.400 724 339.600 723.800C341.800 723.600 343.200 722 343 720.400M334.600 711.400l1 8.400M341.400 710l1 8.400"/>
<path class="pw" d="M420.600 693C423 691 423.600 688.400 423.600 686.400C423.800 683.600 425.400 682 428 681.800C430.200 681.800 431 683 430.600 685.200C430.200 688 429 690 427.600 691.600Z"/>
<ellipse cx="426.800" cy="685.600" rx="1.800" ry="1.200" transform="rotate(-40 426.800 685.600)"/>
<path d="M421.400 704C421.800 706.400 423.600 707.800 425.800 707.400C428 707.200 429.400 705.600 429 704M420.800 694l.8 9.600M427.600 692.600l.8 9.600"/>
<!-- hoses -->
<path class="pw" d="M441.500 687.600L445 686.800C446.400 684.400 448.600 685.400 448.200 687.800L447 691.600L443.100 692.400"/>
<path class="pw" d="M438.300 697.200L441.400 696.600C442.600 694.400 444.800 695.200 444.600 697.400L443.400 701L437.500 702"/>
<path class="pw" d="M447.400 689.800L457.400 687.800C459 687.400 459.600 686.600 459 685.400C458 684.400 456.800 683.400 456.600 682.100C456.600 680.400 458 679.200 460 678.800L478.400 679.400L487 677.400C488.200 677.600 488.800 678.800 488.500 680.700C488.300 682 487.600 682.600 486.600 682.800L479.700 683.400L465.600 684.800C464.600 685 464 685.800 464.200 686.800L464 688.600C463.800 690.400 462.800 691.200 461.400 691.600L447 693.600"/>
<path class="pw" d="M444.200 699.400L453 699.700C456 700 458.600 701.400 461 702.800C463 703.400 464.600 703 465.600 701.600C466.400 700 466.200 698 464.800 696.800C463.800 696.200 463.600 695.400 464.200 694.600C465 694 466.400 693.800 468 693.800L481.100 693.600L493.400 691C494.600 690.400 495 689 494.700 687.400C494.400 686.600 493.600 686.400 492.600 686.600L481.100 688.200L465.400 689.600C463 690 461.400 691.200 460.600 692.600C460.200 694 460.400 695.200 461.400 696.200L459.400 696.600C456 695.400 452 694.800 448.400 695L444.800 695.600"/>
<path d="M490.600 679.400L567.300 659M496 687.500L554.400 671.900" stroke-width="1"/>
<path d="M554.400 670.600l2 .6l-.4 1.600" stroke-width=".8"/>
</g>
<!-- clip 620 -->
<g class="p">
<path class="pw" d="M395.100 722.700L408.700 718.400L411.100 720.300L411.900 733.100L412.400 739.500L396.700 747.500L393.500 745.100L393.500 736.300L396 735.600C397.200 733 397 730.600 396 728.200C395 726 394.800 724.200 395.100 722.700Z"/>
<path d="M393.500 736.300L396.700 738.400L411.900 733.100M396.700 738.400L396.700 747.500M395 737.200l0 8.400"/>
<circle cx="403.900" cy="738.700" r="3"/>
<circle cx="404.100" cy="738.900" r="1.500" fill="#444"/>
</g>
<!-- bolt 630 -->
<g class="p" transform="translate(447.900 762) rotate(199)">
<path class="pw" d="M4 -4.200L25.500 -4.200A2.200 4.200 0 0 1 25.500 4.200L4 4.200Z"/>
<path d="M19 -4.200A2.200 4.200 0 0 1 19 4.200M13 -4.200A2.200 4.200 0 0 1 13 4.200"/>
<path class="pw" d="M6 -9.500L1 -11.400A10 11.400 0 0 0 1 11.400L6 9.500A5 9.500 0 0 0 6 -9.500Z"/>
<ellipse class="pw" cx="-1" cy="0" rx="9.600" ry="11.400"/>
<ellipse cx="-1.500" cy="0" rx="7" ry="8.600"/>
<path d="M-1.500 -5.500l1.200 3l3.200-1l-1.400 3.200l2.400 2.200l-3.200 .6l-.4 3.400l-2.400-2.400l-2.800 1.800l.6-3.400l-3-1.600l3-1.400l-.8-3.400l2.800 1.600z" stroke-width=".8"/>
</g>
<!-- arrow to 640 bottom -->
<g class="p">
<path class="pw" d="M287.400 741.900L289.200 751.500L295.800 747.300Z" stroke-dasharray="2.400 1"/>
</g>
<!-- clamp 640 bottom -->
<g class="p">
<path class="pw" d="M341 866C339.400 870 339.800 876 342.600 880C345 883 349 884 352 882.600C355.600 881 357.600 877 357.400 872C357.200 868 355.400 864.600 352.600 863.400C348.600 862 343.400 863 341 866Z"/>
<ellipse cx="349.400" cy="873" rx="4.200" ry="7.400" transform="rotate(-12 349.400 873)"/>
<path d="M343.400 868C342.400 872 343 877 345.400 880.400M340.600 864l2.400-3.600l9 -1.400l2 2.400l-10 2zM343 860.400l1.400 3.200M346.600 882.800l1.400 2.200l3-.6l-.6-2.200"/>
</g>

<!-- 60_mid.svg -->
<!-- leader lines -->
<g class="p" stroke-width="1">
<path d="M497.300 568.500L519.200 579.800L445.300 600.100L584.900 681.400"/>
<path d="M610.400 554.900L692.400 611.300"/>
<path d="M553.300 638.500L538.500 641L567.400 657.700L559.700 660.300"/>
<path d="M641.700 705.200L665.600 718.900"/>
</g>
<!-- pipe 680 -->
<g class="p">
<path class="pw" d="M450.600 567.700L515.400 549.600C520 548.800 526 548.600 530.500 548.900L545.600 551.100L565.900 549.600L583.300 545.100L587.100 545.800L590.800 545.800L622.500 539.400L627.800 541.300L628.500 548.900L597.600 556.600L597.600 560.200L595.400 562.400L577.300 567.900L571.200 567.700L559.200 561.700L545.600 560.900L542.600 560.200L533.500 557.900L521.400 557.900L454.300 575.200C451.600 575.600 449.600 574.400 449.400 572C449.200 570 449.600 568.400 450.600 567.700Z"/>
<path d="M450.600 567.700C452.400 568.400 453.400 570.200 453.400 572.200C453.400 573.600 453 574.600 452.400 575.400" stroke-dasharray="1.400 1.200"/>
<path d="M565.900 549.600C569 550.200 571.400 551.800 572.700 553.400C576 556 578 559 578 562C578.200 564 577.800 566 577.300 567.900M572.700 553.400L587.100 545.800M590.800 545.800L597.600 556.600M602.100 549.600L613.400 546.600" />
<path d="M545.600 557.100L557.600 557.900" stroke-dasharray="1.200 2"/>
<path d="M622.500 539.400L627.800 541.300L628.500 548.900" stroke="#fff" stroke-dasharray="1.400 1.400" stroke-width="1.400"/>
<!-- clip on pipe -->
<path class="pw" d="M484.500 561.700L496.600 558.700L499.600 562.400L499.600 567L488.300 570.400L485.200 567.700Z"/>
<path d="M484.500 561.700L488 565L499.600 562.400M488 565L488.300 570.400M491.600 565.200l.2 4.200M495 564.400l.2 4.200" />
<!-- branch hose -->
<path d="M542.600 560.200L542.600 577C542.400 579.600 541 581.400 538.600 582.400L536.500 583.500"/>
</g>
<!-- pipe 660 -->
<g class="p">
<path d="M536.500 581.300C534 580.600 531.800 581.400 531.300 582.800C530.400 584.800 530.200 586.600 530.500 588.100C531.400 590 533 591 535 591.100L550.100 590.300L588 583.200C589.600 583 591 583.200 592.400 583.800L655 607.800L598.400 618.600C594 619.600 589 621.600 584.800 623.400L575 627.600"/>
<path d="M538 587.300L550 586.800L587.800 579.800C590 579.600 592 579.800 593.800 580.500L657.900 604.600C659.600 605.600 660.200 607 659.800 608.400C659.400 609.600 658 610.200 656 610.300L598.400 620.900C594 622 590 623.600 585 625.700L577.300 629.800"/>
<path d="M533.400 582.400l3 1.400l-.6 3.200l-3-.6zM537 583.600l1 3.600" stroke-width=".9"/>
<path d="M574.400 627.400l3.200 2.800" stroke-width="1.600"/>
</g>
<!-- clamp 670 mid -->
<g class="p">
<path class="pw" d="M553.600 624.600C552 629 552.400 636 555.400 640.600C558 644 562 645.400 565.400 644C569 642.400 571.200 638 571 632.600C570.800 628 568.800 624.400 565.600 623C561.600 621.400 556 622 553.600 624.600Z"/>
<ellipse cx="562.600" cy="633.600" rx="4.200" ry="8" transform="rotate(-12 562.600 633.600)"/>
<ellipse cx="563.400" cy="633.800" rx="2" ry="5" transform="rotate(-12 563.400 633.800)"/>
<path d="M556 627C555 631.600 555.600 637 558.200 641M553.600 623.600l2.200-3.400l9.400-1.600l2 2.400l-10.400 2.200zM555.800 620.200l1.400 3M559.600 643.800l1.200 2.400l3.200-.6l-.4-2.200"/>
</g>
<!-- pipe 650 -->
<g class="p">
<path d="M563.900 665.800L566.600 665.100L585 660L669.400 638.600C682 634.600 692 628 699.600 621.600C701.400 619.600 701.800 617.600 700.600 615.800L698.200 612.300"/>
<path d="M567.300 668.500L585.400 663L670 641.600C683 637.600 694 631 702 624C704.400 621 704.600 618.600 703.500 617.100C702.400 615 700.400 613 698.200 612.300"/>
<path d="M563.900 665.800l3.400 2.700M565 663.600l1.400 4.400" />
<path d="M693 611.200c1.400-1.800 4.400-1.600 5.600 .2c.8 1.800-.2 3.600-2.200 4c-2.200 .2-3.800-1.200-3.400-3.200zM694.800 612l2.800 2.400" stroke-width=".9"/>
</g>
<!-- clamp 690 -->
<g class="p">
<path class="pw" d="M645.800 519.400C649 517.400 652 516.800 655.200 517C657.600 517 659.400 517.200 660.500 517.600C663.400 518.600 665.800 520.400 667.500 522.600L667.500 534L662 549.600C659.600 551 657 551.600 654.600 551.600L651 551.800Z"/>
<ellipse class="pw" cx="649.300" cy="535.500" rx="9.200" ry="16.500" transform="rotate(-10 649.300 535.500)"/>
<path d="M652.900 524.900C654.600 529 656 534 658.100 537.800C659 539.400 660 540.600 661.100 541.300M650.600 521.600C653.600 526 655 532 657 537.600C658 540 659.400 542 660.600 543" />
<path d="M665.200 525.200l3.500 0l0 8l-3.500 0z" fill="#333" stroke="#333"/>
<path class="pw" d="M662.200 534.300L664.800 532.800L670.400 530.800L674.500 534.300L674.500 537.200L672.200 539L673.400 541.300L674.800 542.500L674.500 547.800L668.100 550.100L666.300 552.500L661.700 549L661.100 543.500Z"/>
<path d="M662.200 534.300L662.800 539.600L666 541L672.200 539M664.600 536.400L671 534.400M666 541L673.400 541.300M660.600 537l1.600 4.600M661.100 543.500L666 541M672.800 542l.2 5.600M661.700 549l1-2.600" />
<path d="M661.400 546l2.400 3.600l2.600 2.600l1.600-2z" fill="#222"/>
</g>
<!-- 490 stud plate -->
<g class="p">
<path class="pw" d="M583.700 685.600L609.200 677.900L610.400 676.400L613 676.800L619.500 675.400L621.200 677.900L621.200 681L603 688.600L601.600 691.600L587.900 695L583.700 694.100Z"/>
<path d="M583.700 685.600L586.400 687.400L620.400 677.400M586.400 687.400L586.400 694.600"/>
<path class="pw" d="M591.600 686.600L600 689.600A2.400 3.400 0 0 1 598.400 695.400L590.400 692.400Z"/>
<path d="M594 687.600l-1.200 5.600M596.200 688.400l-1.200 5.600" />
<path class="pw" d="M612 680.600L620.400 683.600A2.400 3.400 0 0 1 618.800 689.400L610.800 686.400Z"/>
<path d="M614.400 681.600l-1.200 5.600M616.600 682.400l-1.200 5.600" />
<path d="M570 672.800L585 681.800" stroke-width="1"/>
</g>
<!-- nut 500 -->
<g class="p">
<ellipse class="pw" cx="672.800" cy="723.400" rx="9" ry="8.600" transform="rotate(-20 672.800 723.400)"/>
<path class="pw" d="M667 721.600C667.600 718 671.200 715.600 674.600 716.400L680 718.400C681.600 719.600 682 721.400 681.600 723.400C681.200 727 678.600 729.600 675.600 730L671 729.400C668.200 728 666.600 725 667 721.600Z"/>
<ellipse class="pw" cx="676.600" cy="724.600" rx="4.400" ry="4.800" transform="rotate(-20 676.600 724.600)"/>
<ellipse cx="677" cy="724.800" rx="2.800" ry="3.200" transform="rotate(-20 677 724.800)"/>
<path d="M668.200 719.400l3.400 1.800M671 729.400l1.400-3.400"/>
</g>
<!-- dotted 450 460 470 -->
<g class="dot">
<path d="M625 703C627 700 632 700 634 702L640 700L642 704L636 708ZM630 706L651 722L648 725L627 710ZM632 712L646 722M634 704L650 718"/>
<path d="M617 732C620 728 628 728 632 731L650 738C652 741 651 745 648 747L634 748L620 742ZM624 734L640 744M630 731L648 742M622 738L634 746M636 736L644 746"/>
<path d="M613 754C616 751 622 751 626 754L637 760L635 766L622 765L614 760ZM618 755L632 763M616 758L630 765"/>
</g>
<!-- bolt 480 (star washer) -->
<g class="p">
<path class="pw" d="M626.300 810.200L627.200 818.600L630.400 815.400L632.600 819.600L634.800 815.400L637 819.600L639 815.400L641.400 818.400L642.200 810Z"/>
<path class="pw" d="M628.500 803L628.500 780.600A5.300 2.200 0 0 1 639.100 780.600L639.100 803Z"/>
<path d="M628.500 785.600A5.300 1.800 0 0 0 639.100 785.600M628.500 790.400A5.300 1.800 0 0 0 639.100 790.400M628.500 795.200A5.300 1.800 0 0 0 639.100 795.200M628.500 800A5.300 1.800 0 0 0 639.100 800"/>
<path class="pw" d="M628.500 801.200C623 801.800 620.400 803.400 620.400 805.400C620.600 809 626 811.600 634 811.600C642 811.600 647.600 809 647.600 805.400C647.600 803.400 645 801.800 639.100 801.200A5.300 2 0 0 1 628.500 801.200Z"/>
</g>
<!-- arrow to 640 mid -->
<g class="p">
<path class="pw" d="M551.700 682.100L547.600 691.600L555.700 691.600Z"/>
</g>
<!-- clamp 640 mid -->
<g class="p">
<path class="pw" d="M514 810.600L518.600 808L521.600 811.600C523.600 816 523.800 822 522.600 826.600L518.600 829L515.600 826.400C513.400 822 513 815 514 810.600Z"/>
<path d="M516 809.400l2.400 4M517.600 814c1.600 3 1.800 8 .8 12M514.600 816l3.400-1.400M514.600 820.400l3.600-1.200M515.200 824.400l3.200-1"/>
</g>

<!-- 65_arrows.svg -->
<g class="p" stroke-width=".85" stroke-dasharray="1.7 .8">
<path d="M293.2 751.8L293.9 752.9L294.8 754.2L295.9 755.8L297.1 757.5L298.4 759.3L299.7 761.3L301.1 763.4L302.6 765.5L304.0 767.7L305.4 769.9L306.8 772.1L308.0 774.3L309.2 776.4L310.4 778.7L311.6 781.0L312.8 783.4L314.0 785.9L315.2 788.4L316.4 790.9L317.6 793.4L318.8 795.8L319.9 798.3L321.0 800.7L322.1 803.1L323.1 805.5L324.1 807.8L325.1 810.1L326.1 812.4L327.1 814.7L328.0 816.9L328.9 819.2L329.8 821.5L330.7 823.7L331.6 826.0L332.4 828.3L333.2 830.5L334.0 832.9L334.9 835.4L335.7 838.0L336.5 840.6L337.3 843.3L338.1 845.9L338.8 848.4L339.5 850.7L340.1 852.9L340.6 854.9L341.1 856.5L341.5 857.9M294.2 751.2L294.9 752.2L295.9 753.5L297.0 755.0L298.2 756.6L299.6 758.5L301.0 760.4L302.4 762.5L303.9 764.6L305.4 766.8L306.9 769.0L308.3 771.2L309.6 773.3L310.9 775.5L312.1 777.8L313.4 780.1L314.7 782.5L315.9 784.9L317.2 787.4L318.4 789.9L319.7 792.4L320.9 794.8L322.1 797.3L323.2 799.7L324.3 802.1L325.4 804.4L326.5 806.7L327.6 809.0L328.6 811.3L329.6 813.6L330.6 815.8L331.6 818.1L332.5 820.4L333.5 822.6L334.4 824.9L335.3 827.2L336.2 829.5L337.1 831.8L337.9 834.4L338.8 837.0L339.7 839.6L340.6 842.3L341.4 844.9L342.2 847.4L342.9 849.7L343.6 851.9L344.2 853.8L344.7 855.4L345.1 856.7M341.5 857.9L345.1 856.7"/>
<path d="M277.2 671.5L276.5 672.5L275.6 673.9L274.6 675.4L273.5 677.2L272.3 679.1L271.0 681.1L269.6 683.2L268.2 685.3L266.9 687.4L265.5 689.5L264.3 691.5L263.1 693.4L261.9 695.3L260.6 697.3L259.3 699.4L258.0 701.6L256.7 703.7L255.4 705.8L254.1 707.8L253.0 709.7L251.9 711.5L250.9 713.0L250.1 714.3L249.4 715.4M278.2 672.1L277.6 673.2L276.8 674.6L275.8 676.2L274.8 678.0L273.6 679.9L272.4 682.0L271.1 684.1L269.8 686.3L268.5 688.4L267.3 690.6L266.1 692.6L264.9 694.6L263.8 696.5L262.6 698.6L261.4 700.7L260.2 702.9L258.9 705.0L257.7 707.2L256.5 709.2L255.4 711.2L254.4 713.0L253.5 714.6L252.8 715.9L252.2 717.0M249.4 715.4L252.2 717.0"/>
<path d="M550.9 693.3L550.8 694.7L550.7 696.5L550.5 698.6L550.4 701.0L550.2 703.5L550.1 706.2L549.9 709.1L549.6 712.1L549.3 715.1L549.0 718.1L548.6 721.0L548.1 724.0L547.6 726.9L547.0 730.0L546.3 733.3L545.6 736.6L544.8 740.0L544.0 743.4L543.1 746.8L542.3 750.2L541.4 753.4L540.5 756.5L539.7 759.5L538.9 762.3L538.0 764.8L537.2 767.3L536.3 769.6L535.4 771.9L534.5 774.1L533.6 776.2L532.7 778.2L531.8 780.1L530.9 782.0L530.0 783.9L529.2 785.8L528.3 787.6L527.5 789.4L526.6 791.2L525.8 793.0L524.9 794.7L524.0 796.4L523.1 798.1L522.3 799.6L521.5 801.0L520.8 802.3L520.2 803.5L519.6 804.5L519.2 805.4M552.1 693.3L552.0 694.8L552.0 696.6L551.9 698.7L551.8 701.0L551.7 703.6L551.6 706.3L551.4 709.2L551.2 712.2L551.0 715.2L550.7 718.3L550.3 721.3L549.9 724.2L549.4 727.2L548.8 730.4L548.2 733.7L547.5 737.1L546.8 740.5L546.0 743.9L545.2 747.3L544.4 750.7L543.6 754.0L542.8 757.1L541.9 760.1L541.1 762.9L540.3 765.6L539.5 768.1L538.7 770.5L537.8 772.8L537.0 775.1L536.1 777.2L535.2 779.3L534.4 781.3L533.5 783.2L532.7 785.1L531.9 787.0L531.1 788.8L530.3 790.7L529.4 792.5L528.6 794.3L527.7 796.1L526.9 797.9L526.1 799.5L525.3 801.1L524.6 802.6L523.9 803.9L523.3 805.1L522.8 806.2L522.4 807.0M519.2 805.4L522.4 807.0"/>
</g>

<!-- 70_dotright.svg -->
<g class="dot">
<!-- 780 bracket -->
<path d="M820.700 613.300L845.200 608.400L862.800 621.500L861.500 629.600L834 634L826 624ZM826 616L846 612L858 622M832 622L850 618M838 626L848 616"/>
<path d="M834.300 632.300L845.200 659.500L858 662L875 654L869.600 643.200L850 640ZM845 645L868 650M852 658L884 680M858 654L888 676"/>
<!-- 790 -->
<path d="M871 700C870 688 878 679 890 677.600L908 677.400C917 679 923 688 923.900 700L922 726C920 738 913 745 902 746.400L890 746C880 744 873 736 872 724Z"/>
<path d="M891.300 712C891 702 896 694 903 692.400C910 692 915 698 915.800 708L915 726C914 735 909 741 903 741C896 741 892 735 891.500 726Z"/>
<path d="M880 684L884 740M886 680L888 690M876 692L892 700M897 700L910 700M897 712L912 712M897 724L912 724M897 734L910 734M903 694L903 740M908 698L908 736"/>
<!-- 800 -->
<path d="M820 648L826 647L826 668L820 668ZM814 668L834 668L835.700 684L830 693L826 686L820 686L817 693L812.600 684ZM816 674L833 674M818 680L832 680"/>
<!-- 720 bracket -->
<path d="M1017.600 579.400L1040.700 572.600L1054.200 580.700L1059.700 590.200L1059.700 601.100L1035.200 607.900L1024.400 588.900ZM1024 580L1044 576L1052 584M1030 586L1046 582M1036 590L1046 578"/>
<path d="M1035.200 607.900L1044 622L1066 628L1071.900 621.500L1060 604M1046 614L1066 620M1066 628L1080 646M1071.900 621.500L1086 642"/>
<!-- 730 -->
<path d="M1066.500 666C1066 654 1074 645 1086 643.600L1104 643.400C1113 645 1119 654 1119.400 666L1118 692C1116 705 1109 712 1098 713.600L1086 713.400C1076 711 1069 703 1068 691Z"/>
<path d="M1086.800 676C1087 667 1092 660 1098.600 658.600C1105 658.400 1109.600 664 1109.900 673L1109 692C1108 700 1104 706 1098.400 706C1092 706 1088 700 1087.400 692Z"/>
<path d="M1076 650L1080 706M1082 646L1084 656M1072 658L1088 666M1092 666L1106 666M1092 678L1108 678M1092 690L1107 690M1092 700L1104 700M1098 660L1098 706M1103 664L1103 702"/>
<!-- 740 -->
<path d="M1016 616L1022 616L1022 630L1016 630ZM1009 632C1012 628 1026 628 1029.800 632L1029.800 648C1026 652 1012 652 1008 648ZM1010 638L1029 638M1010 644L1029 644M1012 652L1010 659.500L1016 656L1020 659.500L1024 656L1028 659.500L1026 652"/>
</g>


<rect x="322" y="339.7" width="49.3" height="27.5" fill="none" stroke="#ff0000" stroke-width="5"/>
<g class="lb">
<text x="149.4" y="185.6" font-size="21.79" textLength="41.2">400</text>
<text x="224.7" y="193.2" font-size="22.63" textLength="41.2">390</text>
<text x="244.1" y="291.0" font-size="22.35" textLength="39.6">325</text>
<text x="333.1" y="293.4" font-size="22.35" textLength="40.4">350</text>
<text x="371.7" y="286.4" font-size="22.21" textLength="40.2">360</text>
<text x="434.5" y="332.2" font-size="22.63" textLength="40.8">3<tspan class="d">7</tspan>0</text>
<text x="472.1" y="284.6" font-size="22.21" textLength="40.3">380</text>
<text x="326.1" y="360.8" font-size="22.07" textLength="41.5">320</text>
<text x="194.1" y="371.0" font-size="22.35" textLength="39.6">330</text>
<text x="360.1" y="409.5" font-size="22.21" textLength="40.3">295</text>
<text x="204.1" y="422.2" font-size="22.63" textLength="39.8">350</text>
<text x="280.6" y="422.2" font-size="22.63" textLength="40.3">310</text>
<text x="323.5" y="466.0" font-size="22.35" textLength="41.0">300</text>
<text x="192.1" y="521.0" font-size="22.35" textLength="40.3">325</text>
<text x="405.1" y="496.0" font-size="22.35" textLength="40.8">520</text>
<text x="410.1" y="560.0" font-size="22.35" textLength="41.6">440</text>
<text x="313.1" y="576.2" font-size="22.63" textLength="41.6">410</text>
<text x="407.1" y="624.0" font-size="22.35" textLength="41.5">430</text>
<text x="363.1" y="668.8" font-size="22.35" textLength="41.8">420</text>
<text x="179.4" y="613.0" font-size="22.35" textLength="40.7">5<tspan class="d">7</tspan>0</text>
<text x="232.4" y="606.2" font-size="22.63" textLength="40.5">550</text>
<text x="301.1" y="640.0" font-size="22.35" textLength="40.3">560</text>
<text x="205.1" y="672.0" font-size="22.35" textLength="40.7">580</text>
<text x="188.8" y="733.6" font-size="22.35" textLength="41.1">6<tspan class="d">7</tspan>0</text>
<text x="206.1" y="757.0" font-size="22.63" textLength="40.4">590</text>
<text x="212.9" y="786.4" font-size="22.63" textLength="39.0">600</text>
<text x="324.1" y="745.9" font-size="22.63" textLength="41.8">610</text>
<text x="379.1" y="765.9" font-size="22.49" textLength="41.3">620</text>
<text x="407.1" y="789.0" font-size="22.35" textLength="41.5">630</text>
<text x="363.5" y="878.0" font-size="22.35" textLength="41.0">640</text>
<text x="473.1" y="831.2" font-size="22.63" textLength="41.4">640</text>
<text x="629.1" y="681.3" font-size="22.49" textLength="41.8">490</text>
<text x="662.7" y="711.4" font-size="22.35" textLength="41.0">500</text>
<text x="581.1" y="720.0" font-size="22.35" textLength="41.8">450</text>
<text x="577.6" y="745.0" font-size="22.63" textLength="41.3">460</text>
<text x="574.1" y="767.7" font-size="22.49" textLength="40.8">4<tspan class="d">7</tspan>0</text>
<text x="581.9" y="799.0" font-size="22.35" textLength="41.6">480</text>
<text x="529.1" y="542.2" font-size="22.63" textLength="41.8">680</text>
<text x="540.9" y="618.0" font-size="22.35" textLength="41.5">6<tspan class="d">7</tspan>0</text>
<text x="611.9" y="637.6" font-size="22.63" textLength="41.8">660</text>
<text x="681.1" y="653.9" font-size="22.49" textLength="41.6">650</text>
<text x="639.1" y="508.2" font-size="22.63" textLength="40.3">690</text>
<text x="764.1" y="485.0" font-size="22.35" textLength="40.8"><tspan class="d">7</tspan>00</text>
<text x="819.8" y="601.0" font-size="22.35" textLength="41.7"><tspan class="d">7</tspan>80</text>
<text x="798.1" y="713.6" font-size="22.63" textLength="40.6">800</text>
<text x="878.1" y="770.8" font-size="22.63" textLength="41.3"><tspan class="d">7</tspan>90</text>
<text x="1024.8" y="565.6" font-size="22.63" textLength="41.1"><tspan class="d">7</tspan>20</text>
<text x="1000.1" y="682.2" font-size="22.63" textLength="40.8"><tspan class="d">7</tspan>40</text>
<text x="1081.8" y="734.4" font-size="22.63" textLength="40.1"><tspan class="d">7</tspan>30</text>
<text x="555.1" y="264.0" font-size="22.63" textLength="40.2">542</text>
<text x="627.3" y="249.2" font-size="22.35" textLength="40.6">544</text>
<text x="544.1" y="383.2" font-size="22.63" textLength="40.8">530</text>
<text x="595.5" y="447.2" font-size="22.63" textLength="40.4">540</text>
<text x="945.1" y="309.4" font-size="22.49" textLength="41.4"><tspan class="d">7</tspan><tspan class="d">7</tspan>0</text>
<text x="1008.6" y="290.4" font-size="22.63" textLength="42.0"><tspan class="d">7</tspan>50</text>
<text x="877.1" y="343.4" font-size="22.63" textLength="40.8"><tspan class="d">7</tspan>60</text>
<text x="1220.5" y="394.8" font-size="22.63" textLength="41.4"><tspan class="d">7</tspan>10</text>
<text x="1167" y="179.300" font-size="32.500" textLength="94" lengthAdjust="spacingAndGlyphs">OM642</text>
</g>
</svg>
</body></html>
